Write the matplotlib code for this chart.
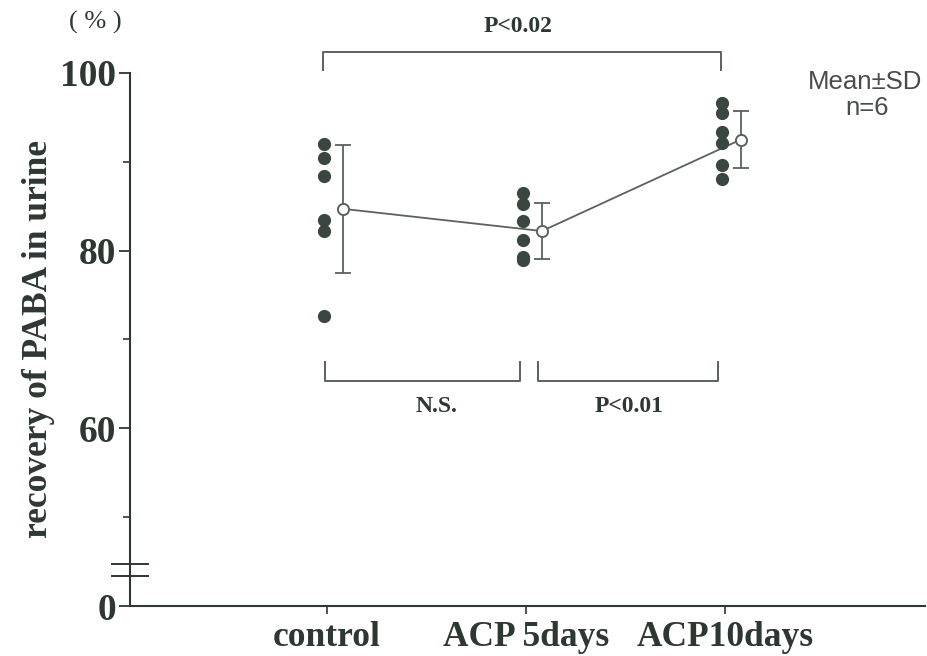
import matplotlib
matplotlib.use("Agg")
import matplotlib.pyplot as plt
import numpy as np

categories = ["control", "ACP 5days", "ACP10days"]
control_vals = [92.0, 90.4, 88.4, 83.4, 82.2, 72.6]
acp5_vals = [86.5, 85.2, 83.3, 81.2, 79.3, 78.9]
acp10_vals = [96.6, 95.5, 93.4, 92.1, 89.6, 88.1]
means = [84.7, 82.2, 92.5]
sds = [7.2, 3.1, 3.2]
ytick_vals = [40, 60, 80, 100]
ytick_labels = ["0", "60", "80", "100"]
minor_ticks = [50, 70, 90]
sig_top = "P<0.02"
sig_left = "N.S."
sig_right = "P<0.01"

ink = "#2e3833"
dotc = "#3a4640"
linec = "#59625d"
serif = ["Liberation Serif", "DejaVu Serif"]

fig = plt.figure(figsize=(9.28, 6.56), dpi=100)
ax = fig.add_axes([130/928, 1-606/656, (925-130)/928, 0.9075])
ax.set_xlim(-0.99, 3.005)
ax.set_ylim(40, 107)

xs = np.arange(len(categories))
groups = [control_vals, acp5_vals, acp10_vals]
for i, g in enumerate(groups):
    ax.plot([xs[i]-0.015]*len(g), g, 'o', color=dotc, markersize=9.5,
            markeredgewidth=0, zorder=3)

mx = xs + 0.08
ax.errorbar(mx, means, yerr=sds, fmt='none', ecolor=linec, elinewidth=1.3,
            capsize=6, capthick=1.3, zorder=2)
ax.plot(mx, means, '-', color=linec, lw=1.3, zorder=2)
ax.plot(mx, means, 'o', mfc='white', mec=linec, mew=1.4, markersize=8, zorder=4)

# spines
for s in ["top", "right"]:
    ax.spines[s].set_visible(False)
ax.spines["left"].set_bounds(40, 100)
ax.spines["left"].set_color(ink)
ax.spines["bottom"].set_color(ink)
ax.spines["left"].set_linewidth(1.5)
ax.spines["bottom"].set_linewidth(1.5)

ax.set_yticks(ytick_vals)
ax.set_yticklabels(ytick_labels, fontsize=27, fontweight='bold', family=serif, color=ink)
ax.set_yticks(minor_ticks, minor=True)
ax.tick_params(axis='y', which='major', length=8, width=1.3, color=ink, pad=2)
ax.tick_params(axis='y', which='minor', length=5, width=1.2, color=ink)
ax.set_xticks(xs)
ax.set_xticklabels(categories, fontsize=25.5, fontweight='bold', family=serif, color=ink)
ax.tick_params(axis='x', length=6, width=1.2, color=ink, pad=5)

# axis break marks
for yb in [43.4, 44.7]:
    ax.plot([-1.08, -0.9], [yb, yb], color=ink, lw=1.4, clip_on=False, zorder=5)

ax.set_ylabel("recovery of PABA in urine", fontsize=25.5, fontweight='bold',
              family=serif, color=ink)
ax.yaxis.set_label_coords(-0.094, 0.448)

# significance brackets
bk = dict(color=linec, lw=1.4, clip_on=False)
ax.plot([-0.02, -0.02, 1.98, 1.98], [100.3, 102.4, 102.4, 100.3], **bk)
ax.text(0.96, 105.2, sig_top, ha='center', va='center', fontsize=17,
        fontweight='bold', family=serif, color=ink)
ax.plot([-0.01, -0.01, 0.97, 0.97], [67.5, 65.3, 65.3, 67.5], **bk)
ax.plot([1.06, 1.06, 1.965, 1.965], [67.5, 65.3, 65.3, 67.5], **bk)
ax.text(0.55, 62.4, sig_left, ha='center', va='center', fontsize=17,
        fontweight='bold', family=serif, color=ink)
ax.text(1.52, 62.4, sig_right, ha='center', va='center', fontsize=17,
        fontweight='bold', family=serif, color=ink)

fig.text(808/928, 1-82/656, "Mean\u00b1SD", ha='left', va='center', fontsize=18.5,
         family=["Liberation Sans", "DejaVu Sans"], color="#474d4a")
fig.text(845/928, 1-108/656, "n=6", ha='left', va='center', fontsize=18.5,
         family=["Liberation Sans", "DejaVu Sans"], color="#474d4a")
fig.text(95/928, 1-22/656, "( % )", ha='center', va='center', fontsize=19,
         family=serif, color=ink)

fig.savefig("out.png", dpi=100)
